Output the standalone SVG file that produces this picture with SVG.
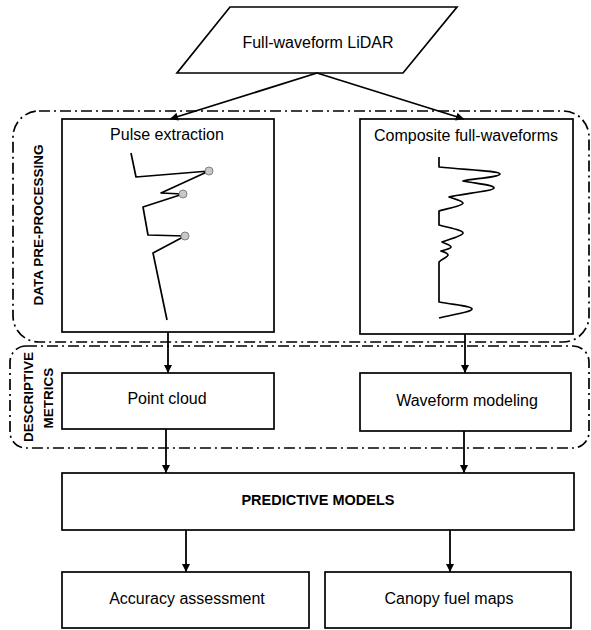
<svg xmlns="http://www.w3.org/2000/svg" width="591" height="630" viewBox="0 0 591 630">
  <style>
    .box { fill: #ffffff; stroke: #000000; stroke-width: 1.7; }
    .zone { fill: none; stroke: #000000; stroke-width: 1.7; stroke-dasharray: 11 4 2 4; }
    .lbl { font-family: "Liberation Sans", Arial, sans-serif; font-size: 16px; fill: #000000; text-anchor: middle; }
    .bold { font-family: "Liberation Sans", Arial, sans-serif; font-weight: bold; font-size: 13.5px; fill: #000000; text-anchor: middle; }
    .link { fill: none; stroke: #000000; stroke-width: 1.8; marker-end: url(#arrow); }
    .wave { fill: none; stroke: #000000; stroke-width: 1.7; stroke-linejoin: round; }
    .peak { fill: #c8c8c8; stroke: #808080; stroke-width: 1; }
  </style>
  <defs>
    <marker id="arrow" viewBox="0 0 10 10" refX="10" refY="5" markerWidth="9" markerHeight="8" markerUnits="userSpaceOnUse" orient="auto">
      <path d="M0,0 L10,5 L0,10 z" fill="#000000"/>
    </marker>
  </defs>

  <rect width="591" height="630" fill="#ffffff"/>

  <!-- processing zones -->
  <g id="zone-preprocessing">
    <rect class="zone" x="13" y="111" width="576" height="231" rx="26" ry="26"/>
    <text class="bold" transform="translate(43,225) rotate(-90)">DATA PRE-PROCESSING</text>
  </g>
  <g id="zone-metrics">
    <rect class="zone" x="10" y="346" width="579" height="102" rx="16" ry="16"/>
    <text class="bold" transform="translate(33,397) rotate(-90)">DESCRIPTIVE</text>
    <text class="bold" transform="translate(53,398) rotate(-90)">METRICS</text>
  </g>

  <!-- input data -->
  <g id="node-lidar">
    <polygon class="box" points="230,7 457,7 403,73 177,73"/>
    <text class="lbl" x="318" y="48">Full-waveform LiDAR</text>
  </g>

  <!-- pulse extraction panel -->
  <g id="node-pulse">
    <rect class="box" x="62" y="119" width="212" height="213"/>
    <text class="lbl" x="167" y="140">Pulse extraction</text>
    <polyline class="wave" points="131,153 136,177 209,171 161,193 183,194 143,207 148,235 185,236 153,253 167,320"/>
    <circle class="peak" cx="209" cy="171" r="4"/>
    <circle class="peak" cx="183" cy="194" r="4"/>
    <circle class="peak" cx="185" cy="236" r="4"/>
  </g>

  <!-- composite waveform panel -->
  <g id="node-composite">
    <rect class="box" x="360" y="119" width="213" height="215"/>
    <text class="lbl" x="466" y="141">Composite full-waveforms</text>
    <path class="wave" d="M439,157 L439,167 C470,170 500,171 500,174 C500,177 470,179 463,181 C480,184 494,185 494,188 C494,191 460,194 449,197 C455,199 463,201 463,203 C463,206 445,209 439,211 L439,225 C450,228 463,230 463,233 C463,236 447,240 442,242 C446,244 451,245 451,247 C451,249 443,250 441,251 C444,252 448,253 448,255 C448,257 442,259 439,262 L439,302 C455,305 472,306 472,309 C472,312 450,315 439,318"/>
  </g>

  <!-- descriptive metrics -->
  <g id="node-pointcloud">
    <rect class="box" x="62" y="373" width="212" height="56"/>
    <text class="lbl" x="167" y="404">Point cloud</text>
  </g>
  <g id="node-modeling">
    <rect class="box" x="360" y="373" width="211" height="58"/>
    <text class="lbl" x="467" y="406">Waveform modeling</text>
  </g>

  <!-- models and outputs -->
  <g id="node-predictive">
    <rect class="box" x="62" y="473" width="512" height="57"/>
    <text class="bold" x="318" y="505" style="font-size:14.5px">PREDICTIVE MODELS</text>
  </g>
  <g id="node-accuracy">
    <rect class="box" x="62" y="572" width="247" height="56"/>
    <text class="lbl" x="187" y="604">Accuracy assessment</text>
  </g>
  <g id="node-maps">
    <rect class="box" x="325" y="572" width="246" height="56"/>
    <text class="lbl" x="449" y="604">Canopy fuel maps</text>
  </g>

  <!-- connectors -->
  <g id="connectors">
    <line class="link" x1="317" y1="73" x2="170" y2="119"/>
    <line class="link" x1="317" y1="73" x2="464" y2="119"/>
    <line class="link" x1="168" y1="332" x2="168" y2="373"/>
    <line class="link" x1="465" y1="334" x2="465" y2="373"/>
    <line class="link" x1="166" y1="429" x2="166" y2="473"/>
    <line class="link" x1="464" y1="431" x2="464" y2="473"/>
    <line class="link" x1="186" y1="530" x2="186" y2="572"/>
    <line class="link" x1="450" y1="530" x2="450" y2="572"/>
  </g>
</svg>
